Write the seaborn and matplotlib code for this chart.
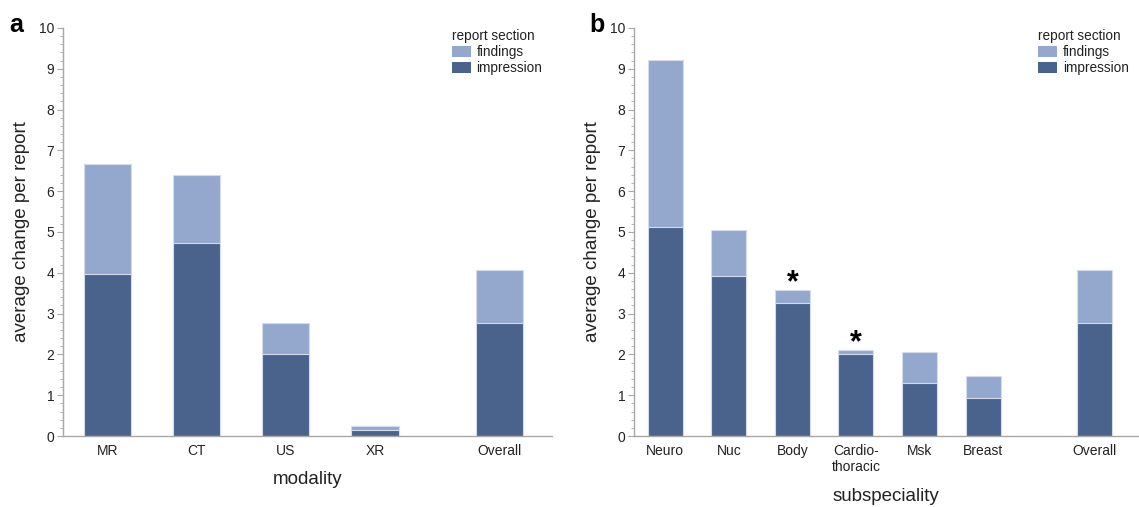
import numpy as np
import pandas as pd
import matplotlib
matplotlib.use("Agg")
import matplotlib.pyplot as plt
import seaborn as sns
from matplotlib.ticker import MultipleLocator
from matplotlib.patches import Patch

# ---- data ----
modality_labels = ["MR", "CT", "US", "XR", "Overall"]
modality_impression = [3.97, 4.73, 2.00, 0.15, 2.77]
modality_total = [6.67, 6.40, 2.77, 0.24, 4.07]

subspec_labels = ["Neuro", "Nuc", "Body", "Cardio-\nthoracic", "Msk", "Breast", "Overall"]
subspec_impression = [5.12, 3.93, 3.25, 2.00, 1.30, 0.92, 2.77]
subspec_total = [9.22, 5.04, 3.57, 2.11, 2.07, 1.46, 4.07]
subspec_starred = ["Body", "Cardio-\nthoracic"]

legend_title = "report section"
series_names = ["findings", "impression"]

# ---- style ----
sns.set_theme(style="white")
plt.rcParams["font.family"] = ["Liberation Sans", "DejaVu Sans"]

C_FIND = "#94A8CE"
C_IMP = "#4A638C"
EDGE = "#D4DCEB"
SPINE = "#A8A8A8"
TXT = "#222222"

fig = plt.figure(figsize=(11.39, 5.07), dpi=100)
axA = fig.add_axes([0.0549, 0.140, 0.4297, 0.805])
axB = fig.add_axes([0.5562, 0.140, 0.4430, 0.805])


def draw(ax, labels, imp, tot, gap, width, right_pad, xlabel, label_pad):
    n = len(labels)
    pos = np.arange(n, dtype=float)
    pos[-1] = (n - 2) + gap
    df = pd.DataFrame({"pos": pos, "total": tot, "imp": imp})
    sns.barplot(data=df, x="pos", y="total", native_scale=True, color=C_FIND,
                width=width, errorbar=None, saturation=1, ax=ax,
                edgecolor=EDGE, linewidth=0.8)
    sns.barplot(data=df, x="pos", y="imp", native_scale=True, color=C_IMP,
                width=width, errorbar=None, saturation=1, ax=ax,
                edgecolor=EDGE, linewidth=0.8)
    ax.set_xlim(-0.5, pos[-1] + right_pad)
    ax.set_ylim(0, 10)
    ax.set_xticks(pos)
    ax.set_xticklabels(labels, fontsize=10, color=TXT, linespacing=1.15)
    ax.tick_params(axis="x", length=0, pad=6)
    ax.yaxis.set_major_locator(MultipleLocator(1))
    ax.yaxis.set_minor_locator(MultipleLocator(0.2))
    ax.tick_params(axis="y", which="major", length=4, width=0.8, color=SPINE,
                   labelsize=10, labelcolor=TXT, pad=2, left=True)
    ax.tick_params(axis="y", which="minor", length=2, width=0.6, color=SPINE, left=True)
    ax.set_ylabel("average change per report", fontsize=13.5, color=TXT, labelpad=6)
    ax.set_xlabel(xlabel, fontsize=13.5, color=TXT, labelpad=label_pad)
    for s in ["top", "right"]:
        ax.spines[s].set_visible(False)
    for s in ["left", "bottom"]:
        ax.spines[s].set_color(SPINE)
        ax.spines[s].set_linewidth(1.0)
    handles = [Patch(facecolor=C_FIND, edgecolor="none"),
               Patch(facecolor=C_IMP, edgecolor="none")]
    leg = ax.legend(handles, series_names, title=legend_title, loc="upper right",
                    bbox_to_anchor=(1.0, 1.02), frameon=False, fontsize=9.8,
                    title_fontsize=9.8, handlelength=1.4, handleheight=0.8,
                    handletextpad=0.4, labelspacing=0.15, borderpad=0.2)
    leg._legend_box.align = "left"
    for t in leg.get_texts():
        t.set_color(TXT)
    leg.get_title().set_color(TXT)
    return pos


draw(axA, modality_labels, modality_impression, modality_total,
     gap=1.39, width=0.53, right_pad=0.59, xlabel="modality", label_pad=9)
posB = draw(axB, subspec_labels, subspec_impression, subspec_total,
            gap=1.75, width=0.55, right_pad=0.69, xlabel="subspeciality", label_pad=10)

for lab in subspec_starred:
    i = subspec_labels.index(lab)
    axB.text(posB[i], subspec_total[i] - 0.2, "*", ha="center", va="bottom",
             fontsize=22, fontweight="bold", color="black")

fig.text(0.008, 0.975, "a", fontsize=18, fontweight="bold", va="top", ha="left", color="black")
fig.text(0.517, 0.975, "b", fontsize=18, fontweight="bold", va="top", ha="left", color="black")

fig.savefig("out.png", dpi=100)
